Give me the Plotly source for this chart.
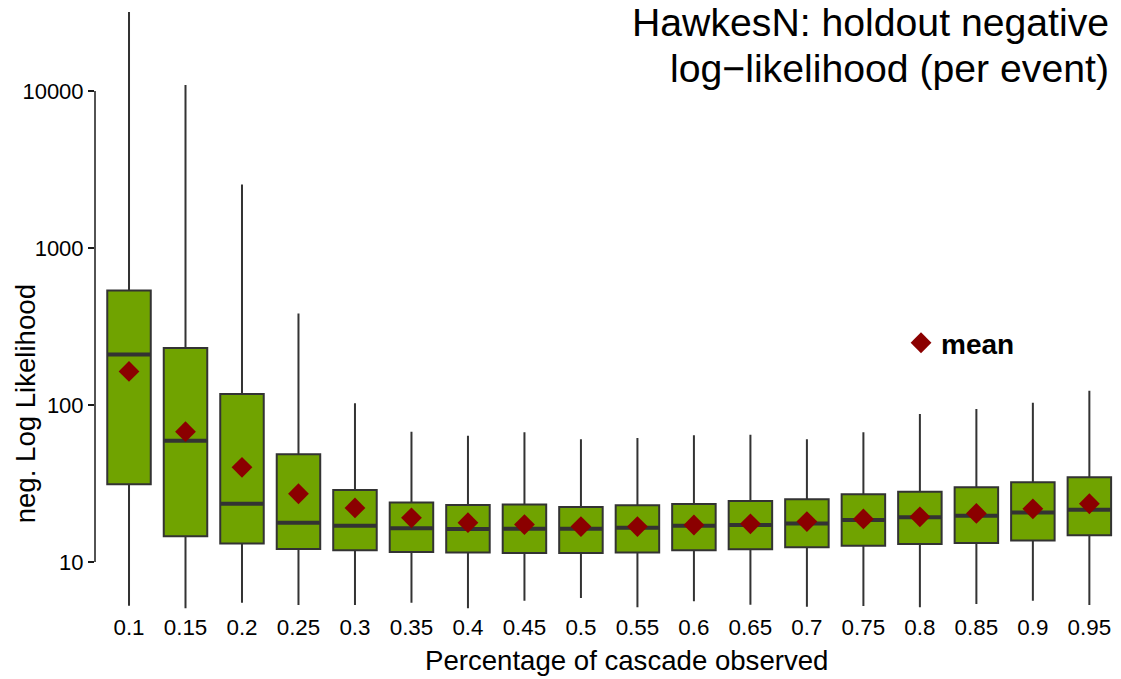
import plotly.graph_objects as go

# Fraction of each cascade observed before fitting
pct = ["0.1", "0.15", "0.2", "0.25", "0.3", "0.35", "0.4", "0.45", "0.5",
       "0.55", "0.6", "0.65", "0.7", "0.75", "0.8", "0.85", "0.9", "0.95"]

# Box-plot summary of holdout negative log-likelihood (per event)
upper = [31850, 10900, 2535, 383, 102.5, 67.6, 63.7, 67.0, 60.5,
         61.6, 64.1, 64.7, 60.5, 67.0, 87.6, 94.3, 103.4, 123.3]
q3 = [536, 231, 117.5, 48.5, 28.7, 23.9, 23.1, 23.2, 22.4,
      23.0, 23.4, 24.5, 25.1, 27.0, 28.0, 29.9, 32.2, 34.6]
median = [210, 59.2, 23.5, 17.8, 17.0, 16.4, 16.2, 16.3, 16.3,
          16.5, 17.0, 17.2, 17.6, 18.5, 19.3, 19.7, 20.7, 21.5]
q1 = [31.3, 14.6, 13.1, 12.1, 11.9, 11.6, 11.5, 11.4, 11.4,
      11.5, 11.9, 12.05, 12.4, 12.7, 13.0, 13.2, 13.7, 14.8]
lower = [5.27, 5.07, 5.51, 5.32, 5.32, 5.51, 5.07, 5.67, 5.9,
         5.15, 5.62, 5.35, 5.19, 5.24, 5.15, 5.4, 5.67, 5.32]
mean = [163.5, 67.6, 40.1, 27.2, 22.1, 19.1, 17.8, 17.3, 16.8,
        16.8, 17.2, 17.5, 18.1, 18.8, 19.4, 20.4, 21.8, 23.5]

y_ticks = [10, 100, 1000, 10000]
y_tick_text = ["10", "100", "1000", "10000"]

FONT = "Liberation Sans, Arial, Helvetica, sans-serif"
GREEN = "#70A300"
DARK = "#333333"
RED = "#8B0000"

fig = go.Figure()

fig.add_trace(go.Box(
    x=pct, q1=q1, median=median, q3=q3,
    lowerfence=lower, upperfence=upper,
    fillcolor=GREEN,
    line=dict(color=DARK, width=2),
    whiskerwidth=0,
    width=0.77,
    boxpoints=False,
    showlegend=False,
    hoverinfo="skip",
))

# heavier median bars on top of the boxes
fig.add_trace(go.Scatter(
    x=pct, y=median, mode="markers",
    marker=dict(symbol="line-ew", size=30.5,
                line=dict(color=DARK, width=4)),
    showlegend=False, hoverinfo="skip",
))

fig.add_trace(go.Scatter(
    x=pct, y=mean, mode="markers", name="mean",
    marker=dict(symbol="diamond", size=16, color=RED,
                line=dict(width=0)),
))

# y axis spine only between the outer ticks
fig.add_shape(type="line", xref="paper", yref="y",
              x0=0, x1=0, y0=y_ticks[0], y1=y_ticks[-1],
              line=dict(color="#1a1a1a", width=1.5))

fig.update_layout(
    width=1121, height=679,
    margin=dict(l=95, r=0, t=0, b=67),
    paper_bgcolor="white", plot_bgcolor="white",
    font=dict(family=FONT, color="black"),
    xaxis=dict(
        type="category", range=[-0.602, 17.56],
        showgrid=False, zeroline=False, showline=False,
        ticks="", tickfont=dict(size=22.4, color="black"),
    ),
    yaxis=dict(
        type="log", range=[0.6815, 4.5796],
        tickvals=y_ticks, ticktext=y_tick_text,
        showgrid=False, zeroline=False, showline=False,
        ticks="outside", ticklen=6, tickwidth=1.5, tickcolor="#1a1a1a",
        tickfont=dict(size=22, color="black"),
    ),
    legend=dict(
        x=0.7856, y=0.4395, xanchor="left", yanchor="middle",
        bgcolor="rgba(0,0,0,0)",
        font=dict(size=28, weight="bold", color="black"),
    ),
    annotations=[
        dict(text="HawkesN: holdout negative", xref="paper", yref="paper",
             x=0.9903, y=0.9634, xanchor="right", yanchor="middle",
             showarrow=False, font=dict(size=39.2, color="black")),
        dict(text="log\u2212likelihood (per event)", xref="paper", yref="paper",
             x=0.9903, y=0.8882, xanchor="right", yanchor="middle",
             showarrow=False, font=dict(size=39.2, color="black")),
        dict(text="Percentage of cascade observed", xref="paper", yref="paper",
             x=0.518, y=-0.0791, xanchor="center", yanchor="middle",
             showarrow=False, font=dict(size=27.6, color="black")),
        dict(text="neg. Log Likelihood", xref="paper", yref="paper",
             x=-0.0669, y=0.3399, xanchor="center", yanchor="middle",
             textangle=-90, showarrow=False,
             font=dict(size=27.6, color="black")),
    ],
)

fig.write_html("out.html")
